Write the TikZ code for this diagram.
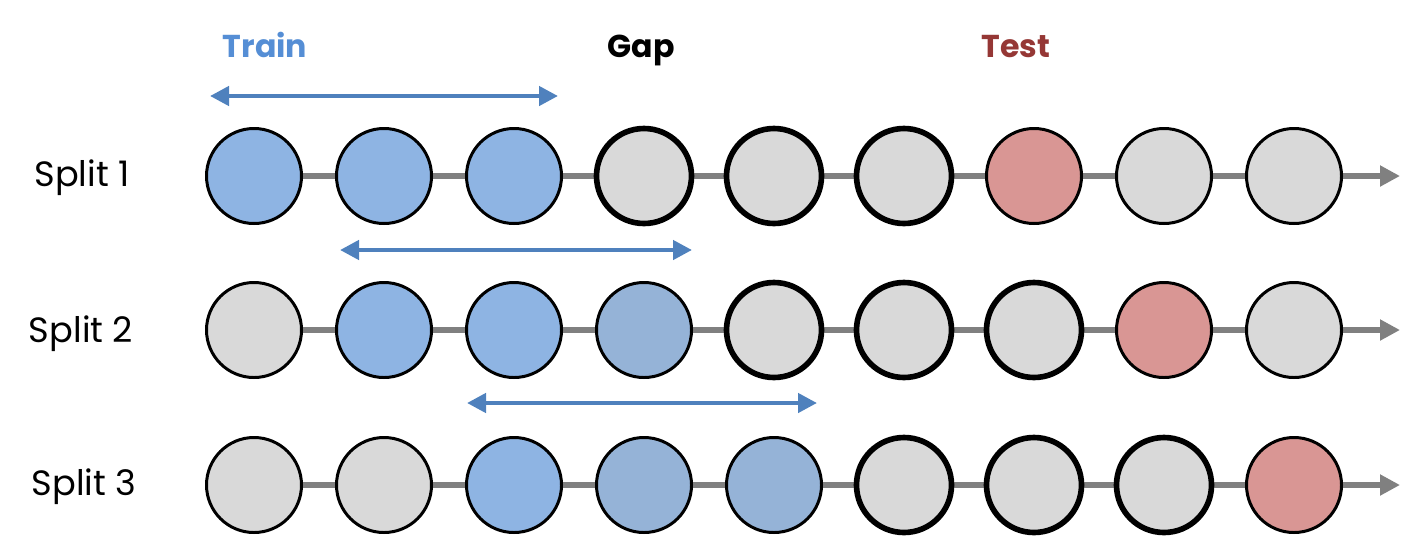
\documentclass[tikz,border=0pt]{standalone}
\usepackage{fontspec}
\setmainfont{Poppins}
\usepackage{xcolor}
\usetikzlibrary{arrows.meta, positioning, backgrounds}
\definecolor{trainblue}{HTML}{8EB4E3}
\definecolor{oldblue}{HTML}{95B3D7}
\definecolor{gapgray}{HTML}{D9D9D9}
\definecolor{testred}{HTML}{D99694}
\definecolor{spanblue}{HTML}{4F81BD}
\definecolor{axisgray}{HTML}{808080}
\definecolor{traintext}{HTML}{558ED5}
\definecolor{testtext}{HTML}{953735}
\tikzset{
  slot/.style={circle, draw=black, line width=1.7pt, fill=gapgray,
               minimum size=1.9cm, inner sep=0pt, outer sep=0pt},
  trainslot/.style={slot, fill=trainblue},
  oldslot/.style={slot, fill=oldblue},
  gapslot/.style={slot, line width=3.2pt},
  testslot/.style={slot, fill=testred},
  timeline/.style={-{Triangle[length=4mm, width=4mm]}, line width=3.2pt, axisgray},
  spanarrow/.style={{Triangle[length=3.8mm, width=3.8mm]}-{Triangle[length=3.8mm, width=3.8mm]},
                    line width=2.5pt, spanblue},
  splitlabel/.style={anchor=base, font=\fontsize{20}{24}\selectfont},
  header/.style={anchor=base, font=\bfseries\fontsize{18}{22}\selectfont}
}

\begin{document}
\begin{tikzpicture}[node distance=0.7cm]
\useasboundingbox (0,0) rectangle (28.38,-11.02);

% Headers
\node[header, text=traintext] (train) at (5.3,-1.14) {Train};
\node[header] (gap) at (12.82,-1.14) {Gap};
\node[header, text=testtext] (test) at (20.32,-1.14) {Test};

% Split 1
\node[splitlabel] (lbl1) at (1.64,-3.73) {Split 1};
\node[trainslot] (a1) at (5.08,-3.52) {};
\node[trainslot, right=of a1] (a2) {};
\node[trainslot, right=of a2] (a3) {};
\node[gapslot, right=of a3] (a4) {};
\node[gapslot, right=of a4] (a5) {};
\node[gapslot, right=of a5] (a6) {};
\node[testslot, right=of a6] (a7) {};
\node[slot, right=of a7] (a8) {};
\node[slot, right=of a8] (a9) {};

% Split 2
\node[splitlabel] (lbl2) at (1.62,-6.84) {Split 2};
\node[slot] (b1) at (5.08,-6.6) {};
\node[trainslot, right=of b1] (b2) {};
\node[trainslot, right=of b2] (b3) {};
\node[oldslot, right=of b3] (b4) {};
\node[gapslot, right=of b4] (b5) {};
\node[gapslot, right=of b5] (b6) {};
\node[gapslot, right=of b6] (b7) {};
\node[testslot, right=of b7] (b8) {};
\node[slot, right=of b8] (b9) {};

% Split 3
\node[splitlabel] (lbl3) at (1.68,-9.91) {Split 3};
\node[slot] (c1) at (5.08,-9.7) {};
\node[slot, right=of c1] (c2) {};
\node[trainslot, right=of c2] (c3) {};
\node[oldslot, right=of c3] (c4) {};
\node[oldslot, right=of c4] (c5) {};
\node[gapslot, right=of c5] (c6) {};
\node[gapslot, right=of c6] (c7) {};
\node[gapslot, right=of c7] (c8) {};
\node[testslot, right=of c8] (c9) {};

% Arrow ends
\coordinate[right=1.17cm of a9] (enda);
\coordinate[right=1.17cm of b9] (endb);
\coordinate[right=1.17cm of c9] (endc);
\coordinate[above=1.6cm of a1.center, xshift=-0.88cm] (sa1);
\coordinate[above=1.6cm of a3.center, xshift=0.88cm] (sa2);
\coordinate[above=1.6cm of b2.center, xshift=-0.88cm] (sb1);
\coordinate[above=1.6cm of b4.center, xshift=0.96cm] (sb2);
\coordinate[above=1.64cm of c3.center, xshift=-0.94cm] (sc1);
\coordinate[above=1.64cm of c5.center, xshift=0.86cm] (sc2);

% Training windows
\draw[spanarrow] (sa1) -- (sa2);
\draw[spanarrow] (sb1) -- (sb2);
\draw[spanarrow] (sc1) -- (sc2);

% Time axes
\begin{scope}[on background layer]
  \draw[timeline] (a1.center) -- (enda);
  \draw[timeline] (b1.center) -- (endb);
  \draw[timeline] (c1.center) -- (endc);
\end{scope}

\end{tikzpicture}
\end{document}
